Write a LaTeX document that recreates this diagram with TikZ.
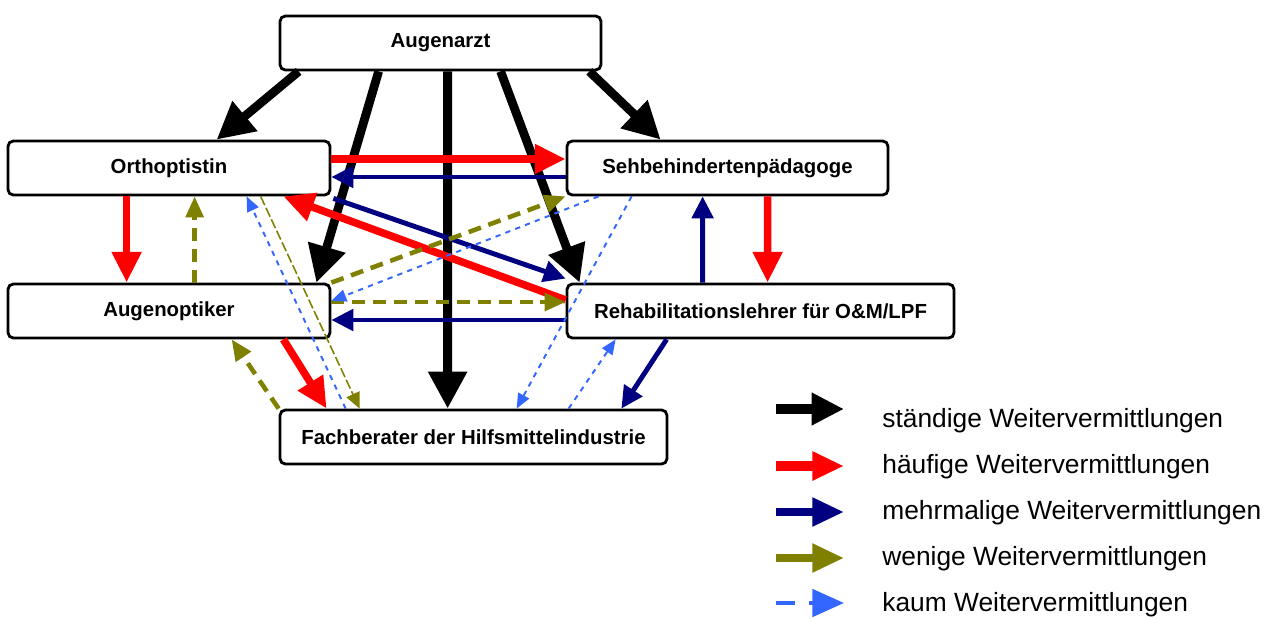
\documentclass[tikz,border=0pt]{standalone}
\usepackage{fontspec}
\setmainfont{Liberation Sans}
\usetikzlibrary{arrows.meta,calc}
\definecolor{hred}{RGB}{255,0,0}
\definecolor{mnavy}{RGB}{0,0,128}
\definecolor{wolive}{RGB}{128,128,0}
\definecolor{kblue}{RGB}{51,102,255}

\begin{document}
\begin{tikzpicture}[x=0.02cm,y=-0.02cm,
  box/.style={draw,fill=white,line width=1.6pt,rounded corners=3pt,minimum height=1.08cm,inner sep=0pt,font=\fontsize{11.6}{14}\selectfont\bfseries},
  always/.style={line width=5pt,-{Triangle[length=21pt,width=21pt]}},
  often/.style={hred,line width=4.3pt,-{Triangle[length=17.5pt,width=16pt]}},
  several/.style={mnavy,line width=2.8pt,-{Triangle[length=12.5pt,width=12pt]}},
  few/.style={wolive,line width=2.6pt,dash pattern=on 7.4pt off 4.5pt,-{Triangle[length=12pt,width=10pt]}},
  fewthin/.style={wolive,line width=0.9pt,dash pattern=on 5.5pt off 1.7pt,-{Triangle[length=9pt,width=8pt]}},
  rare/.style={kblue,line width=1.1pt,dash pattern=on 3pt off 3pt,-{Triangle[length=8.5pt,width=7pt]}},
  legtext/.style={anchor=west,inner sep=0pt,font=\fontsize{15}{18}\selectfont},
  legarrow/.style={line width=4.2pt,-{Triangle[length=18pt,width=15.5pt]}}]
 \useasboundingbox (0,0) rectangle (1276,619);

 % Stellen
 \node[box,minimum width=6.42cm] (arzt) at (440.5,43) {Augenarzt};
 \node[box,minimum width=6.44cm] (ortho) at (169,168) {Orthoptistin};
 \node[box,minimum width=6.42cm] (seh) at (727.5,168) {Sehbehindertenpädagoge};
 \node[box,minimum width=6.44cm] (optik) at (169,311) {Augenoptiker};
 \node[box,minimum width=7.74cm] (reha) at (760.5,311) {Rehabilitationslehrer für O\&M/LPF};
 \node[box,minimum width=7.74cm] (fach) at (473.5,437) {Fachberater der Hilfsmittelindustrie};

 % staendig
 \draw[always] ($(arzt.south west)+(20,0)$) -- ($(ortho.north west)+(210,0)$);
 \draw[always] ($(arzt.south west)+(100,0)$) -- ($(optik.north east)+(-15,0)$);
 \draw[always] ($(arzt.south west)+(169,0)$) -- ($(fach.north west)+(169,0)$);
 \draw[always] ($(arzt.south west)+(222,0)$) -- ($(reha.north west)+(14,0)$);
 \draw[always] ($(arzt.south east)+(-13,0)$) -- ($(seh.north west)+(95,0)$);

 % haeufig
 \draw[often] ($(ortho.east)+(0,-9)$) -- ($(seh.west)+(0,-9)$);
 \draw[often] ($(ortho.south west)+(120,0)$) -- ($(optik.north west)+(120,0)$);
 \draw[often] ($(reha.west)+(0,-11)$) -- ($(ortho.south east)+(-48,0)$);
 \draw[often] ($(seh.south west)+(202,0)$) -- ($(reha.north west)+(202,0)$);
 \draw[often] ($(optik.south east)+(-48,0)$) -- ($(fach.north west)+(48,0)$);

 % mehrmalig
 \draw[several] ($(seh.west)+(0,9)$) -- ($(ortho.east)+(0,9)$);
 \draw[several] ($(ortho.south east)+(2,2)$) -- ($(reha.north west)+(0,-4)$);
 \draw[several] ($(reha.west)+(0,9)$) -- ($(optik.east)+(0,9)$);
 \draw[several] ($(reha.north west)+(137,0)$) -- ($(seh.south west)+(137,0)$);
 \draw[several] ($(reha.south west)+(101,0)$) -- ($(fach.north east)+(-47,0)$);

 % wenig
 \draw[few] ($(optik.north west)+(188,0)$) -- ($(ortho.south west)+(188,0)$);
 \draw[few] (optik.north east) -- (seh.south west);
 \draw[few] ($(optik.east)+(0,-9)$) -- ($(reha.west)+(0,-9)$);
 \draw[few] (fach.north west) -- ($(optik.south west)+(225,0)$);
 \draw[fewthin] ($(ortho.south west)+(254,0)$) -- ($(fach.north west)+(81,0)$);

 % kaum
 \draw[rare] ($(fach.north west)+(67,0)$) -- ($(ortho.south west)+(240,0)$);
 \draw[rare] ($(seh.south west)+(33,0)$) -- ($(optik.east)+(0,-10)$);
 \draw[rare] ($(seh.south west)+(66,0)$) -- ($(fach.north west)+(238,0)$);
 \draw[rare] ($(fach.north west)+(290,0)$) -- ($(reha.south west)+(50,0)$);

 % Legende
 \node[legtext] (lg1) at (882,421) {ständige Weitervermittlungen};
 \node[legtext] (lg2) at (882,467) {häufige Weitervermittlungen};
 \node[legtext] (lg3) at (882,513) {mehrmalige Weitervermittlungen};
 \node[legtext] (lg4) at (882,559) {wenige Weitervermittlungen};
 \node[legtext] (lg5) at (882,605) {kaum Weitervermittlungen};
 \draw[legarrow,line width=5.7pt,-{Triangle[length=18.5pt,width=17.5pt]}] ($(lg1.west)+(-106,-12)$) -- ++(68,0);
 \draw[legarrow,hred,line width=5.7pt] ($(lg2.west)+(-106,-1)$) -- ++(68,0);
 \draw[legarrow,mnavy] ($(lg3.west)+(-106,-1)$) -- ++(68,0);
 \draw[legarrow,wolive] ($(lg4.west)+(-106,-1)$) -- ++(68,0);
 \draw[legarrow,kblue,line width=2.3pt,dash pattern=on 10.8pt off 8pt] ($(lg5.west)+(-106,-2)$) -- ++(68,0);
\end{tikzpicture}
\end{document}
